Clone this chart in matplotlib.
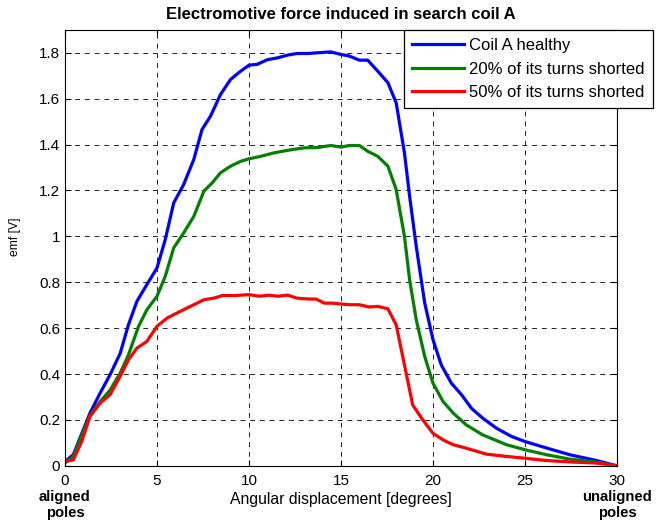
import numpy as np
import matplotlib
matplotlib.use('Agg')
import matplotlib.pyplot as plt

plt.rcParams['font.family'] = ['Liberation Sans', 'DejaVu Sans']

# angular displacement [degrees] and emf [V]
x_healthy = [0, 0.45, 1.36, 1.91, 2.45, 3.0, 3.45, 3.91, 4.45, 5.0, 5.45, 5.91, 6.45, 7.0,
             7.45, 7.91, 8.45, 9.0, 9.55, 10.0, 10.45, 11.0, 11.55, 12.1, 12.6, 13.2, 13.7,
             14.45, 15.0, 15.45, 16.0, 16.45, 17.0, 17.55, 18.0, 18.45, 18.73, 19.09, 19.55,
             20.0, 20.45, 21.0, 21.55, 22.1, 22.7, 23.45, 24.27, 25.0, 26.2, 27.45, 28.9, 30.0]
emf_healthy = [0.019, 0.048, 0.23, 0.317, 0.397, 0.49, 0.615, 0.717, 0.79, 0.862, 0.986, 1.146,
               1.226, 1.335, 1.466, 1.524, 1.618, 1.684, 1.72, 1.746, 1.75, 1.77, 1.778, 1.79,
               1.797, 1.797, 1.8, 1.804, 1.793, 1.786, 1.768, 1.768, 1.72, 1.67, 1.582, 1.364,
               1.175, 0.957, 0.71, 0.55, 0.44, 0.36, 0.31, 0.25, 0.208, 0.164, 0.128, 0.106,
               0.077, 0.048, 0.023, 0.0]

x_20 = [0, 0.45, 1.36, 1.91, 2.45, 3.0, 3.45, 4.0, 4.45, 5.0, 5.45, 5.91, 6.45, 7.0, 7.55,
        8.0, 8.45, 9.0, 9.55, 10.0, 10.64, 11.36, 12.1, 13.0, 13.7, 14.45, 15.0, 15.45, 16.0,
        16.45, 17.0, 17.55, 18.0, 18.45, 18.73, 19.09, 19.55, 20.0, 20.55, 21.1, 21.8, 22.7,
        24.0, 25.0, 26.2, 27.45, 28.9, 30.0]
emf_20 = [0.012, 0.04, 0.22, 0.28, 0.33, 0.404, 0.484, 0.608, 0.68, 0.739, 0.826, 0.95, 1.015,
          1.087, 1.197, 1.233, 1.277, 1.306, 1.327, 1.338, 1.349, 1.364, 1.375, 1.386, 1.387,
          1.396, 1.389, 1.396, 1.396, 1.371, 1.349, 1.306, 1.204, 1.0, 0.811, 0.637, 0.477,
          0.36, 0.28, 0.23, 0.179, 0.135, 0.092, 0.07, 0.048, 0.029, 0.016, 0.0]

x_50 = [0, 0.45, 0.91, 1.36, 1.91, 2.45, 3.0, 3.45, 3.91, 4.45, 5.0, 5.55, 6.09, 6.64, 7.18,
        7.55, 8.1, 8.55, 9.18, 10.0, 10.55, 11.1, 11.55, 12.1, 12.6, 13.2, 13.64, 14.1, 14.55,
        15.0, 15.55, 16.0, 16.55, 17.0, 17.55, 18.0, 18.45, 18.9, 19.45, 20.0, 20.55, 21.1,
        21.8, 22.9, 24.0, 25.0, 26.2, 27.45, 28.9, 30.0]
emf_50 = [0.019, 0.026, 0.106, 0.215, 0.273, 0.31, 0.39, 0.462, 0.513, 0.542, 0.608, 0.644,
          0.666, 0.688, 0.709, 0.724, 0.731, 0.742, 0.742, 0.746, 0.739, 0.744, 0.739, 0.744,
          0.731, 0.727, 0.727, 0.709, 0.709, 0.705, 0.702, 0.702, 0.692, 0.695, 0.684, 0.615,
          0.44, 0.265, 0.2, 0.142, 0.113, 0.092, 0.077, 0.051, 0.041, 0.033, 0.023, 0.017,
          0.012, 0.0]

fig = plt.figure(figsize=(6.61, 5.24), dpi=100)
ax = fig.add_axes([0.0983, 0.111, 0.8351, 0.832])

ax.plot(x_healthy, emf_healthy, color='#0000ff', linewidth=2.3, label='Coil A healthy')
ax.plot(x_20, emf_20, color='#008000', linewidth=2.3, label='20% of its turns shorted')
ax.plot(x_50, emf_50, color='#ff0000', linewidth=2.3, label='50% of its turns shorted')

ax.set_xlim(0, 30)
ax.set_ylim(0, 1.9)
ax.set_xticks([0, 5, 10, 15, 20, 25, 30])
ax.set_yticks(np.arange(0, 1.81, 0.2))
ax.set_yticklabels(['0', '0.2', '0.4', '0.6', '0.8', '1', '1.2', '1.4', '1.6', '1.8'])
ax.tick_params(direction='in', top=True, right=True, labelsize=11, length=4)
ax.tick_params(axis='x', pad=6)
ax.grid(True, color='#222222', linestyle=(0, (5, 5)), linewidth=0.7)

ax.set_title('Electromotive force induced in search coil A', fontsize=12, fontweight='bold', pad=8)
ax.set_xlabel('Angular displacement [degrees]', fontsize=11.3, labelpad=3)
ax.set_ylabel('emf [V]', fontsize=8.7)
ax.yaxis.set_label_coords(-0.08, 0.525)

ax.text(0, -0.056, 'aligned\npoles', transform=ax.get_xaxis_transform(), ha='center', va='top',
        fontsize=10.7, fontweight='bold', linespacing=1.12, clip_on=False)
ax.text(30, -0.056, 'unaligned\npoles', transform=ax.get_xaxis_transform(), ha='center', va='top',
        fontsize=10.7, fontweight='bold', linespacing=1.12, clip_on=False)

leg = ax.legend(loc='upper right', bbox_to_anchor=(1.065, 1.0), borderaxespad=0, fontsize=12,
                fancybox=False, edgecolor='black', framealpha=1, handlelength=3.1,
                handletextpad=0.3, borderpad=0.5, labelspacing=0.5)
leg.get_frame().set_linewidth(0.9)

fig.savefig('out.png', dpi=100)
